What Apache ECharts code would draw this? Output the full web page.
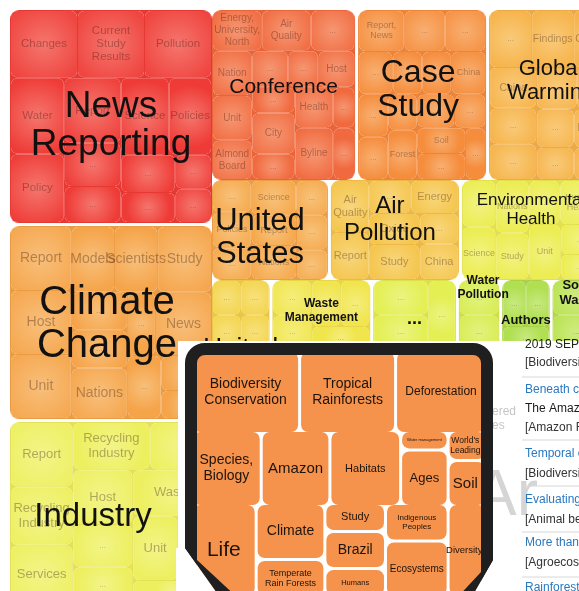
<!DOCTYPE html>
<html><head><meta charset="utf-8">
<script src="https://cdn.jsdelivr.net/npm/echarts@6/dist/echarts.min.js"></script>
<style>html,body{margin:0;padding:0;background:#fff}#c{width:579px;height:591px}</style>
</head><body><div id="c"></div>
<script>
// ================= DATA =================
// main voronoi-like treemap: clusters (weights)
const leftClusters = ['News\nReporting', 'Climate\nChange', 'Industry'];
const leftWeights = [215, 195, 184];
const band1Clusters = ['Conference', 'Case\nStudy', 'Global\nWarming'];
const band1Weights = [145, 130, 125];
const band2Clusters = ['United\nStates', 'Air\nPollution', 'Environmental\nHealth'];
const band2Weights = [118, 130, 140];
const band3Clusters = ['United\nKingdom', 'Waste\nManagement', '...', 'Water\nPollution', 'Authors', 'Solid\nWaste'];
const band3Weights = [60, 100, 85, 43, 50, 50];

// topics inside clusters
const newsReportingTopics = ['Changes', 'Current\nStudy\nResults', 'Pollution', 'Water', 'Policy', 'Report', '...', '...', 'Science', 'Policies', '...', '...', '...', '...'];
const newsReportingWeights = [11, 11, 11, 10, 9, 9, 6, 5, 9, 8, 5, 4, 3, 3];
const climateChangeTopics = ['Report', 'Host', 'Unit', 'Models', 'Scientists', 'Study', '...', '...', 'Nations', '...', 'News', '...', '...', '...'];
const climateChangeWeights = [11, 11, 11, 8, 8, 10, 6, 6, 8, 5, 10, 6, 5, 4];
const industryTopics = ['Report', 'Recycling\nIndustry', 'Services', 'Recycling\nIndustry', '...', 'Host', '...', '...', 'Waste', 'Unit', '...', '...'];
const industryWeights = [11, 10, 10, 10, 8, 9, 7, 6, 10, 8, 6, 5];
const conferenceTopics = ['Energy,\nUniversity,\nNorth', 'Air\nQuality', '...', 'Nation', 'Unit', 'Almond\nBoard', '...', '...', 'Host', '...', 'City', '...', 'Health', '...', 'Byline', '...'];
const conferenceWeights = [9, 9, 8, 8, 8, 7, 6, 5, 6, 5, 8, 5, 7, 4, 9, 5];
const caseStudyTopics = ['Report,\nNews', '...', '...', '...', '...', '...', 'China', '...', '...', '...', 'Forest', '...', '...', 'Soil', '...', '...'];
const caseStudyWeights = [9, 8, 8, 7, 6, 6, 7, 6, 6, 5, 7, 6, 5, 6, 6, 5];
const globalWarmingTopics = ['...', 'Findings', 'Carbon', 'China', '...', '...', '...', '...', '...', '...', 'Health', '...'];
const globalWarmingWeights = [10, 10, 9, 8, 7, 7, 7, 6, 6, 5, 6, 5];
const unitedStatesTopics = ['...', 'Policies', '...', 'Science', '...', 'Report', 'Nations', '...', '...'];
const unitedStatesWeights = [8, 9, 8, 10, 7, 9, 10, 7, 6];
const airPollutionTopics = ['Air\nQuality', 'Report', '...', 'Energy', 'Oxide', 'Study', '...', 'China'];
const airPollutionWeights = [10, 9, 7, 8, 8, 9, 6, 7];
const envHealthTopics = ['...', 'Science', 'Nations', 'Study', '...', 'Human\nHealth', 'Unit', '...', '...'];
const envHealthWeights = [8, 9, 9, 8, 7, 9, 9, 6, 5];
const unitedKingdomTopics = ['...', '...', '...', '...'];
const unitedKingdomWeights = [1, 1, 1, 1];
const wasteMgmtTopics = ['...', '...', '...', '...', '...'];
const wasteMgmtWeights = [1, 1, 1, 1, 1];
const dotsTopics = ['...', '...', '...'];
const dotsWeights = [1, 1, 1];
const waterPollutionTopics = ['...', '...'];
const waterPollutionWeights = [1, 1];
const authorsTopics = ['...', '...', '...'];
const authorsWeights = [1, 1, 1];
const solidWasteTopics = ['...', '...'];
const solidWasteWeights = [1, 1];

// inset (phone) treemap rows: columns of topics
const insetRow1Topics = [['Biodiversity\nConservation'], ['Tropical\nRainforests'], ['Deforestation']];
const insetRow1Weights = [[107], [95], [90]];
const insetRow2Topics = [['Species,\nBiology'], ['Amazon'], ['Habitats'], ['Water management', 'Ages'], ["World's\nLeading", 'Soil']];
const insetRow2Weights = [[69], [68], [70], [12, 35], [15, 23]];
const insetRow3Topics = [['Life'], ['Climate', 'Temperate\nRain Forests'], ['Study', 'Brazil', 'Humans'], ['Indigenous\nPeoples', 'Ecosystems'], ['Diversity']];
const insetRow3Weights = [[64], [41, 27], [18, 24, 18], [25, 37], [38]];

// result list texts
const listTexts = ['2019 SEP 12', '[Biodiversity Conservation]', 'Beneath canopy', 'The Amazon rainforest', '[Amazon Forest]', 'Temporal changes', '[Biodiversity]', 'Evaluating the', '[Animal behavior]', 'More than half', '[Agroecosystems]', 'Rainforests'];
const listKinds = ['date', 'tag', 'title', 'text', 'tag', 'title', 'tag', 'title', 'tag', 'title', 'tag', 'title'];

// ================= STYLE =================
const FONT = "'Liberation Sans', Arial, Helvetica, sans-serif";
const clusterColor = {
  'News\nReporting': '#ef3b37', 'Climate\nChange': '#f5a44a', 'Industry': '#edef5e',
  'Conference': '#f16a3f', 'Case\nStudy': '#f58d3d', 'Global\nWarming': '#f6b34a',
  'United\nStates': '#f5a84b', 'Air\nPollution': '#f5c54d', 'Environmental\nHealth': '#eced53',
  'United\nKingdom': '#f3d44c', 'Waste\nManagement': '#f0e54d', '...': '#e3ef52',
  'Water\nPollution': '#d6ec4f', 'Authors': '#b0df52', 'Solid\nWaste': '#bbe354'
};
const subFont = {
  'News\nReporting': 11.5, 'Climate\nChange': 14, 'Industry': 13, 'Conference': 10, 'Case\nStudy': 9,
  'Global\nWarming': 10.5, 'United\nStates': 9, 'Air\nPollution': 11, 'Environmental\nHealth': 9
};
// [fontSize, lineHeight, weight, dx, dy]
const bigLabel = {
  'News\nReporting': [37, 38, 'normal', 0, 9], 'Climate\nChange': [40, 43, 'normal', -4, 2], 'Industry': [33, 36, 'normal', -18, 4],
  'Conference': [21, 24, 'normal', 0, -8], 'Case\nStudy': [32, 34, 'normal', -4, -5], 'Global\nWarming': [22, 24, 'normal', 0, -14],
  'United\nStates': [31, 33, 'normal', -10, 8], 'Air\nPollution': [24, 27, 'normal', -5, -10], 'Environmental\nHealth': [17, 19, 'normal', 0, -20],
  'United\nKingdom': [26, 28, 'normal', 0, 48], 'Waste\nManagement': [12, 14, 'bold', 0, -4], '...': [18, 18, 'bold', 0, 4],
  'Water\nPollution': [12, 14, 'bold', 4, -27], 'Authors': [13, 15, 'bold', 0, 5], 'Solid\nWaste': [13, 15, 'bold', 2, -22]
};
const insetFont = {
  'Biodiversity\nConservation': 14, 'Tropical\nRainforests': 14, 'Deforestation': 12, 'Species,\nBiology': 14,
  'Amazon': 15, 'Habitats': 11, 'Water management': 4, 'Ages': 13, "World's\nLeading": 8.5, 'Soil': 15,
  'Life': 21, 'Climate': 14, 'Temperate\nRain Forests': 9, 'Study': 11, 'Brazil': 14, 'Humans': 7.5,
  'Indigenous\nPeoples': 8, 'Ecosystems': 10, 'Diversity': 9.5
};
const insetShift = { 'Diversity': -3, 'Soil': -2, "World's\nLeading": -2 };
const INSET_COLOR = '#f5924c';

function mix(hex, tgt, t) {
  const a = parseInt(hex.slice(1), 16);
  const r = (a >> 16) & 255, g = (a >> 8) & 255, b = a & 255;
  return 'rgb(' + Math.round(r + (tgt[0] - r) * t) + ',' + Math.round(g + (tgt[1] - g) * t) + ',' + Math.round(b + (tgt[2] - b) * t) + ')';
}
const lighten = (h, t) => mix(h, [255, 255, 235], t);
const darken = (h, t) => mix(h, [110, 30, 0], t);
function centerOffset(text, lh, dx, dy) {
  const n = text.split('\n').length;
  return [dx || 0, -n * lh / 2 + (dy || 0)];
}

const common = {
  type: 'treemap', roam: false, nodeClick: false, breadcrumb: { show: false },
  squareRatio: 1, sort: false, animation: false, upperLabel: { show: false },
  emphasis: { disabled: true },
  label: { show: true, position: 'inside', align: 'center', verticalAlign: 'top', padding: 0, overflow: 'none', fontFamily: FONT, color: 'rgba(40,10,0,0.33)' }
};

function clusterSeries(box, names, weights, topics, topicWeights) {
  const data = names.map((name, i) => {
    const base = clusterColor[name];
    return {
      name: name, value: weights[i],
      itemStyle: { color: base, borderColor: darken(base, 0.07), borderWidth: 1, gapWidth: 1, borderRadius: 9 },
      children: topics[i].map((t, j) => {
        const fs = t === '...' ? 8 : (subFont[name] || 9);
        const lh = Math.round(fs * 1.15);
        return {
          name: t, value: topicWeights[i][j],
          itemStyle: { color: { type: 'radial', x: 0.5, y: 0.5, r: 0.75, colorStops: [{ offset: 0, color: lighten(base, 0.3) }, { offset: 1, color: base }] }, borderRadius: 6 },
          label: { fontSize: fs, lineHeight: lh, offset: centerOffset(t, lh) }
        };
      })
    };
  });
  return Object.assign({}, common, box, { z: 2, itemStyle: { borderWidth: 0, gapWidth: 3, borderColor: '#fff' }, data: data });
}
function labelSeries(box, names, weights) {
  const data = names.map((name, i) => {
    const s = bigLabel[name];
    return {
      name: name, value: weights[i],
      itemStyle: { color: 'transparent', borderWidth: 0 },
      label: { fontSize: s[0], lineHeight: s[1], fontWeight: s[2], color: '#111', offset: centerOffset(name, s[1], s[3], s[4]) }
    };
  });
  return Object.assign({}, common, box, { z: 3, silent: true, itemStyle: { borderWidth: 0, gapWidth: 3, borderColor: 'transparent' }, data: data });
}
function insetLeaf(t, v) {
  const fs = insetFont[t] || 12;
  const lh = Math.round(fs * 1.12);
  return { name: t, value: v, itemStyle: { color: INSET_COLOR, borderRadius: 7 }, label: { fontSize: fs, lineHeight: lh, color: '#1e140c', offset: centerOffset(t, lh, insetShift[t] || 0) } };
}
function insetSeries(box, topics, weights) {
  const data = topics.map((col, i) => {
    const leaves = col.map((t, j) => insetLeaf(t, weights[i][j]));
    if (leaves.length === 1) return leaves[0];
    return { name: '', itemStyle: { gapWidth: 3, borderWidth: 0, borderColor: '#fff' }, children: leaves };
  });
  return Object.assign({}, common, box, { z: 20, silent: true, itemStyle: { borderWidth: 0, gapWidth: 3, borderColor: '#fff' }, data: data });
}

// ================= LAYOUT =================
const boxLeft = { left: 10, top: 10, width: 202, height: 594 };
const boxB1 = { left: 212, top: 10, width: 400, height: 170 };
const boxB2 = { left: 212, top: 180, width: 388, height: 100 };
const boxB3 = { left: 212, top: 280, width: 388, height: 70 };
const boxI1 = { left: 193, top: 352, width: 292, height: 80 };
const boxI2 = { left: 193, top: 432, width: 292, height: 73 };
const boxI3 = { left: 193, top: 505, width: 292, height: 90 };

const series = [
  clusterSeries(boxLeft, leftClusters, leftWeights, [newsReportingTopics, climateChangeTopics, industryTopics], [newsReportingWeights, climateChangeWeights, industryWeights]),
  clusterSeries(boxB1, band1Clusters, band1Weights, [conferenceTopics, caseStudyTopics, globalWarmingTopics], [conferenceWeights, caseStudyWeights, globalWarmingWeights]),
  clusterSeries(boxB2, band2Clusters, band2Weights, [unitedStatesTopics, airPollutionTopics, envHealthTopics], [unitedStatesWeights, airPollutionWeights, envHealthWeights]),
  clusterSeries(boxB3, band3Clusters, band3Weights, [unitedKingdomTopics, wasteMgmtTopics, dotsTopics, waterPollutionTopics, authorsTopics, solidWasteTopics], [unitedKingdomWeights, wasteMgmtWeights, dotsWeights, waterPollutionWeights, authorsWeights, solidWasteWeights]),
  labelSeries(boxLeft, leftClusters, leftWeights),
  labelSeries(boxB1, band1Clusters, band1Weights),
  labelSeries(boxB2, band2Clusters, band2Weights),
  labelSeries(boxB3, band3Clusters, band3Weights),
  insetSeries(boxI1, insetRow1Topics, insetRow1Weights),
  insetSeries(boxI2, insetRow2Topics, insetRow2Weights),
  insetSeries(boxI3, insetRow3Topics, insetRow3Weights)
];

// list panel texts
const listY = [345, 363, 390, 409, 428, 454, 474, 500, 520, 543, 563, 588];
const sepY = [377, 440, 486, 532, 577];
const kindStyle = { date: '#222', tag: '#333', title: '#2a78c0', text: '#1a1a1a' };
const elements = [
  { type: 'rect', z: 10, shape: { x: 178, y: 341, width: 401, height: 250 }, style: { fill: '#fff' } },
  { type: 'text', z: 11, style: { text: 'ered\nes', x: 492, y: 419, font: '12px ' + FONT, lineHeight: 14, fill: 'rgba(150,150,150,0.55)', verticalAlign: 'middle' } },
  { type: 'text', z: 11, style: { text: 'Ar', x: 474, y: 497, font: '64px ' + FONT, fill: 'rgba(150,150,150,0.4)', verticalAlign: 'middle' } }
];
listTexts.forEach((t, i) => {
  elements.push({ type: 'text', z: 12, style: { text: t, x: 525, y: listY[i], font: '12px ' + FONT, fill: kindStyle[listKinds[i]], verticalAlign: 'middle', align: 'left' } });
});
sepY.forEach(y => elements.push({ type: 'line', z: 12, shape: { x1: 522, y1: y, x2: 579, y2: y }, style: { stroke: '#d8d8d8', lineWidth: 1 } }));
// phone frame
elements.push({ type: 'rect', z: 30, shape: { x: 191, y: 349, width: 296, height: 300, r: 14 }, style: { fill: 'none', stroke: '#1f1f1f', lineWidth: 12 } });
elements.push({ type: 'polygon', z: 31, shape: { points: [[176, 548], [185, 548], [222, 600], [176, 600]] }, style: { fill: '#fff' } });
elements.push({ type: 'polygon', z: 31, shape: { points: [[185, 540], [197, 540], [197, 560], [240, 600], [222, 600], [185, 548]] }, style: { fill: '#1f1f1f' } });
elements.push({ type: 'polygon', z: 31, shape: { points: [[493, 560], [500, 560], [500, 600], [470, 600]] }, style: { fill: '#fff' } });
elements.push({ type: 'polygon', z: 31, shape: { points: [[481, 550], [493, 550], [493, 560], [470, 600], [455, 600], [481, 572]] }, style: { fill: '#1f1f1f' } });

const chart = echarts.init(document.getElementById('c'), null, { renderer: 'canvas' });
chart.setOption({ animation: false, backgroundColor: '#fff', series: series, graphic: { elements: elements } });
</script></body></html>
